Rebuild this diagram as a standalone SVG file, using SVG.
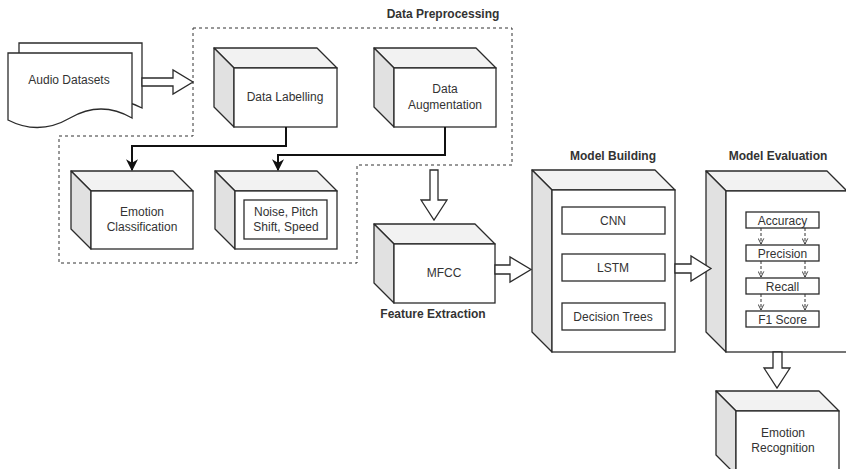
<svg xmlns="http://www.w3.org/2000/svg" width="846" height="469" viewBox="0 0 846 469">
<defs>
<style>
.face{fill:#ffffff;stroke:#2b2b2b;stroke-width:1.3}
.top{fill:#f2f2f2;stroke:#2b2b2b;stroke-width:1.3;stroke-linejoin:round}
.side{fill:#e1e1e1;stroke:#2b2b2b;stroke-width:1.3;stroke-linejoin:round}
.inner{fill:#ffffff;stroke:#2b2b2b;stroke-width:1.3}
.t{font-family:"Liberation Sans",Arial,sans-serif;font-size:12px;fill:#333333;text-anchor:middle}
.b{font-family:"Liberation Sans",Arial,sans-serif;font-size:12px;font-weight:bold;fill:#333333;text-anchor:middle}
.conn{fill:none;stroke:#111111;stroke-width:2}
.hollow{fill:#ffffff;stroke:#2b2b2b;stroke-width:1.3;stroke-linejoin:miter}
.dash{fill:none;stroke:#333333;stroke-width:1;stroke-dasharray:3 3}
.small{fill:none;stroke:#333333;stroke-width:1;stroke-dasharray:3 2}
</style>
<marker id="arr" viewBox="0 0 10 10" refX="9" refY="5" markerWidth="6" markerHeight="6" orient="auto" markerUnits="strokeWidth">
<path d="M0,0 L10,5 L0,10 L3,5 Z" fill="#111111"/>
</marker>
<marker id="open" viewBox="0 0 10 10" refX="9" refY="5" markerWidth="7" markerHeight="7" orient="auto" markerUnits="userSpaceOnUse">
<path d="M1,1 L9,5 L1,9" fill="none" stroke="#333333" stroke-width="1.3"/>
</marker>
</defs>
<rect width="846" height="469" fill="#ffffff"/>

<g id="preprocessing-group">
<path class="dash" d="M193,28 H512 V165 H357 V263 H59 V136 H193 Z"/>
<text class="b" x="443" y="18">Data Preprocessing</text>
</g>

<g id="audio-datasets">
<path class="face" d="M19,43 H142 V108 Q111,92 80,108 Q49,124 19,108 Z"/>
<path class="face" d="M8,53 H132 V118 Q101,100 70,118 Q39,136 8,120 Z"/>
<text class="t" x="69" y="84">Audio Datasets</text>
</g>

<g id="data-labelling">
<polygon class="top" points="214,48 317,48 337,68 234,68"/>
<polygon class="side" points="214,48 234,68 234,127 214,107"/>
<rect class="face" x="234" y="68" width="103" height="59"/>
<text class="t" x="285" y="101">Data Labelling</text>
</g>

<g id="data-augmentation">
<polygon class="top" points="374,48 476,48 496,68 394,68"/>
<polygon class="side" points="374,48 394,68 394,127 374,107"/>
<rect class="face" x="394" y="68" width="102" height="59"/>
<text class="t" x="445" y="93">Data</text>
<text class="t" x="445" y="109">Augmentation</text>
</g>

<g id="emotion-classification">
<polygon class="top" points="71,171 173,171 193,191 91,191"/>
<polygon class="side" points="71,171 91,191 91,249 71,229"/>
<rect class="face" x="91" y="191" width="102" height="58"/>
<text class="t" x="142" y="216">Emotion</text>
<text class="t" x="142" y="231">Classification</text>
</g>

<g id="noise-pitch-speed">
<polygon class="top" points="215,171 317,171 337,191 235,191"/>
<polygon class="side" points="215,171 235,191 235,249 215,229"/>
<rect class="face" x="235" y="191" width="102" height="58"/>
<rect class="inner" x="244" y="200" width="83" height="39"/>
<text class="t" x="286" y="216">Noise, Pitch</text>
<text class="t" x="286" y="231">Shift, Speed</text>
</g>

<g id="mfcc">
<polygon class="top" points="374,224 475,224 495,244 394,244"/>
<polygon class="side" points="374,224 394,244 394,303 374,283"/>
<rect class="face" x="394" y="244" width="101" height="59"/>
<text class="t" x="444" y="277">MFCC</text>
<text class="b" x="433" y="318">Feature Extraction</text>
</g>

<g id="model-building">
<text class="b" x="613" y="160">Model Building</text>
<polygon class="top" points="532,170 655,170 675,190 552,190"/>
<polygon class="side" points="532,170 552,190 552,352 532,332"/>
<rect class="face" x="552" y="190" width="123" height="162"/>
<rect class="inner" x="562" y="207" width="103" height="27"/>
<text class="t" x="613" y="225">CNN</text>
<rect class="inner" x="562" y="254" width="103" height="27"/>
<text class="t" x="613" y="272">LSTM</text>
<rect class="inner" x="562" y="303" width="103" height="27"/>
<text class="t" x="613" y="321">Decision Trees</text>
</g>

<g id="model-evaluation">
<text class="b" x="778" y="160">Model Evaluation</text>
<polygon class="top" points="706,171 827,171 847,191 726,191"/>
<polygon class="side" points="706,171 726,191 726,352 706,332"/>
<rect class="face" x="726" y="191" width="121" height="161"/>
<rect class="inner" x="746" y="212" width="73" height="16"/>
<text class="t" x="782.5" y="224.5">Accuracy</text>
<rect class="inner" x="746" y="245" width="73" height="16"/>
<text class="t" x="782.5" y="257.5">Precision</text>
<rect class="inner" x="746" y="278" width="73" height="16"/>
<text class="t" x="782.5" y="290.5">Recall</text>
<rect class="inner" x="746" y="311" width="73" height="16"/>
<text class="t" x="782.5" y="323.5">F1 Score</text>
</g>

<g id="emotion-recognition">
<polygon class="top" points="716,391 819,391 839,411 736,411"/>
<polygon class="side" points="716,391 736,411 736,475 716,455"/>
<rect class="face" x="736" y="411" width="103" height="64"/>
<text class="t" x="783" y="437">Emotion</text>
<text class="t" x="783" y="452">Recognition</text>
</g>

<g id="connectors">
<path class="conn" d="M286,127 V146 H132 V170" marker-end="url(#arr)"/>
<path class="conn" d="M445,127 V155 H278 V170" marker-end="url(#arr)"/>
<polygon class="hollow" points="142,78 173,78 173,70 193,82 173,94 173,86 142,86"/>
<polygon class="hollow" points="430,170 438,170 438,200 447,200 434,220 421,200 430,200"/>
<polygon class="hollow" points="495,265 510,265 510,257 531,269.5 510,282 510,274 495,274"/>
<polygon class="hollow" points="675,264 691,264 691,256 711,268.5 691,281 691,273 675,273"/>
<polygon class="hollow" points="773,352 782,352 782,368 790,368 777,388 764,368 773,368"/>
<path class="small" d="M761,228 V244" marker-end="url(#open)"/>
<path class="small" d="M805,228 V244" marker-end="url(#open)"/>
<path class="small" d="M761,261 V277" marker-end="url(#open)"/>
<path class="small" d="M805,261 V277" marker-end="url(#open)"/>
<path class="small" d="M761,294 V310" marker-end="url(#open)"/>
<path class="small" d="M805,294 V310" marker-end="url(#open)"/>
</g>
</svg>
